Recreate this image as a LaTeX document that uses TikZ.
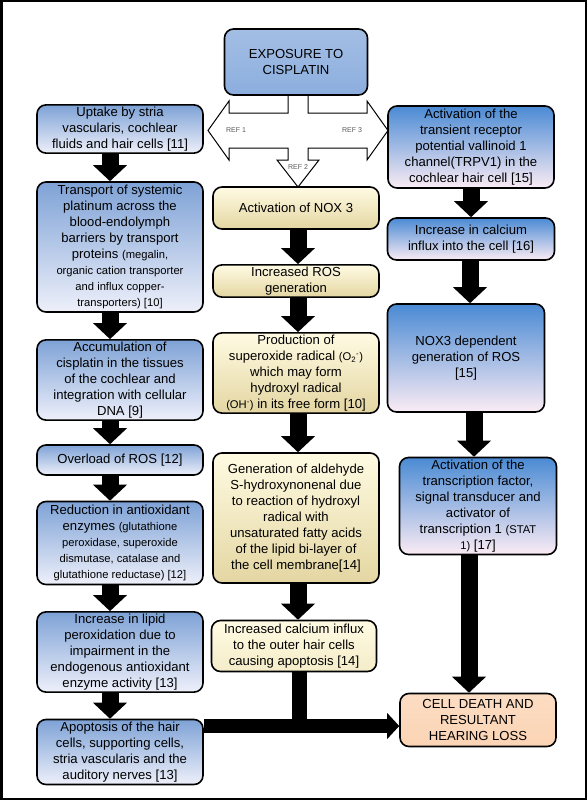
\documentclass[tikz,border=0pt]{standalone}
\usepackage{fontspec}
\setmainfont{Liberation Sans}
\usetikzlibrary{arrows.meta}

\definecolor{lbluetop}{RGB}{126,162,214}
\definecolor{lbluebot}{RGB}{238,240,250}
\definecolor{rbluetop}{RGB}{74,138,212}
\definecolor{rbluebot}{RGB}{251,236,244}
\definecolor{creamtop}{RGB}{255,251,227}
\definecolor{creambot}{RGB}{228,214,162}
\definecolor{peach}{RGB}{251,212,180}
\definecolor{topblue}{RGB}{140,174,222}
\newcommand{\smtxt}{\fontsize{11.2}{14}\selectfont}

\begin{document}
\begin{tikzpicture}[x=1pt,y=-1pt,
  box/.style={draw=black,line width=1.6pt,rounded corners=9pt,align=center,
    font=\fontsize{13.1}{16}\selectfont,inner sep=2pt},
  lbox/.style={box,top color=lbluetop,bottom color=lbluebot,minimum width=166pt},
  mbox/.style={box,top color=creamtop,bottom color=creambot,minimum width=166pt},
  rbox/.style={box,top color=rbluetop,bottom color=rbluebot},
  reflabel/.style={font=\fontsize{7}{8}\selectfont,text=black!65},
  blk/.style={line width=17pt,-{Triangle[width=34pt,length=16pt,line width=0pt]}},
  blkh/.style={line width=14pt,-{Triangle[width=26pt,length=12pt,line width=0pt]}}]
  \useasboundingbox (0,0) rectangle (587,800);
  \draw[line width=2.5pt] (1.25,1.25) rectangle (585.75,798.75);

  \draw[line width=1pt,fill=white] (288,95) -- (288,113) -- (229,113) -- (229,101) -- (208,130.5)
    -- (229,160) -- (229,148) -- (288,148) -- (288,160) -- (277,160) -- (298,187) -- (319,160)
    -- (308,160) -- (308,148) -- (367,148) -- (367,160) -- (388,130.5) -- (367,101) -- (367,113)
    -- (308,113) -- (308,95);
  \node[reflabel] (ref1) at (236,130) {REF 1};
  \node[reflabel] (ref3) at (352,130) {REF 3};
  \node[reflabel] (ref2) at (298,167) {REF 2};

  \node[box,top color=topblue!80!white,bottom color=topblue,minimum width=143pt,minimum height=66pt]
    (expo) at (296,62) {EXPOSURE TO\\CISPLATIN};

  \node[lbox,minimum height=48pt] (uptake) at (120,129) {Uptake by stria\\vascularis, cochlear\\fluids and hair cells [11]};
  \node[lbox,minimum height=130pt] (transport) at (120,247) {Transport of systemic\\platinum across the\\blood-endolymph\\barriers by  transport\\proteins {\smtxt(megalin,}\\{\smtxt organic cation transporter}\\{\smtxt and influx copper-}\\{\smtxt transporters) [10]}};
  \node[lbox,minimum height=76pt] (accum) at (120,380) {Accumulation of\\cisplatin in the tissues\\of the cochlear and\\integration with cellular\\DNA [9]};
  \node[lbox,minimum height=30pt] (overload) at (120,460) {Overload of ROS [12]};
  \node[lbox,minimum height=83pt] (reduct) at (120,543) {Reduction in antioxidant\\enzymes {\smtxt (glutathione}\\{\smtxt peroxidase, superoxide}\\{\smtxt dismutase, catalase and}\\{\smtxt glutathione  reductase) [12]}};
  \node[lbox,minimum height=78pt] (lipid) at (120,652) {Increase in lipid\\peroxidation due to\\impairment in the\\endogenous antioxidant\\enzyme activity [13]};
  \node[lbox,minimum height=65pt] (apopt) at (120,752) {Apoptosis of the hair\\cells, supporting cells,\\stria vascularis and the\\auditory nerves [13]};

  \node[mbox,minimum height=42pt] (nox) at (296,208) {Activation of NOX 3};
  \node[mbox,minimum height=31pt] (rosgen) at (296,281) {Increased ROS\\generation};
  \node[mbox,minimum height=78pt] (superox) at (296,373) {Production of\\superoxide radical {\smtxt(O\textsubscript{2}\textsuperscript{-})}\\which may form\\hydroxyl radical\\{\smtxt(OH\textsuperscript{-})} in its free form [10]};
  \node[mbox,minimum height=130pt] (aldehyde) at (296,518) {Generation of aldehyde\\S-hydroxynonenal due\\to reaction of hydroxyl\\radical with\\unsaturated fatty acids\\of the lipid bi-layer of\\the cell membrane[14]};
  \node[box,top color=creamtop,bottom color=creamtop!60!creambot,minimum width=165pt,minimum height=51pt]
    (calcium) at (294,646) {Increased calcium influx\\to the outer hair cells\\causing apoptosis [14]};

  \node[rbox,minimum width=166pt,minimum height=82pt] (trpv) at (471,147) {Activation of the\\transient receptor\\potential vallinoid 1\\channel(TRPV1) in the\\cochlear hair cell [15]};
  \node[rbox,minimum width=167pt,minimum height=42pt] (influx) at (471,239) {Increase in calcium\\influx into the cell [16]};
  \node[rbox,minimum width=157pt,minimum height=108pt] (noxros) at (466,358) {NOX3 dependent\\generation of ROS\\{[15]}};
  \node[rbox,minimum width=157pt,minimum height=97pt] (stat) at (478,506) {Activation of the\\transcription factor,\\signal transducer and\\activator of\\transcription 1 {\smtxt(STAT}\\{\smtxt 1)} [17]};
  \node[box,top color=peach!80!white,bottom color=peach,minimum width=156pt,minimum height=53pt]
    (death) at (478,720) {CELL DEATH AND\\RESULTANT\\HEARING LOSS};

  \draw[blk] ([xshift=-10pt]uptake.south) -- ([xshift=-10pt]transport.north);
  \draw[blk] ([xshift=-10pt]transport.south) -- ([xshift=-10pt]accum.north);
  \draw[blk] ([xshift=-10pt]accum.south) -- ([xshift=-10pt]overload.north);
  \draw[blk] ([xshift=-10pt]overload.south) -- ([xshift=-10pt]reduct.north);
  \draw[blk] ([xshift=-10pt]reduct.south) -- ([xshift=-10pt]lipid.north);
  \draw[blk] ([xshift=-10pt]lipid.south) -- ([xshift=-10pt]apopt.north);

  \draw[blk] ([xshift=2pt]nox.south) -- ([xshift=2pt]rosgen.north);
  \draw[blk] ([xshift=2pt]rosgen.south) -- ([xshift=2pt]superox.north);
  \draw[blk] ([xshift=2pt]superox.south) -- ([xshift=2pt]aldehyde.north);
  \draw[blk] ([xshift=2pt]aldehyde.south) -- ([xshift=2pt]aldehyde.south |- calcium.north);

  \draw[blk] (trpv.south) -- (influx.north);
  \draw[blk] ([xshift=-1pt]influx.south) -- ([xshift=-1pt]influx.south |- noxros.north);
  \draw[blk] ([xshift=8pt]noxros.south) -- ([xshift=8pt]noxros.south |- stat.north);
  \draw[blk] ([xshift=-9pt]stat.south) -- ([xshift=-9pt]stat.south |- death.north);

  \coordinate (jn) at ([yshift=26pt]apopt.east);
  \draw[line width=15pt] ([xshift=5.5pt]calcium.south) -- ([xshift=5.5pt]calcium.south |- jn);
  \draw[blkh] (jn) -- (jn -| death.west);
\end{tikzpicture}
\end{document}
